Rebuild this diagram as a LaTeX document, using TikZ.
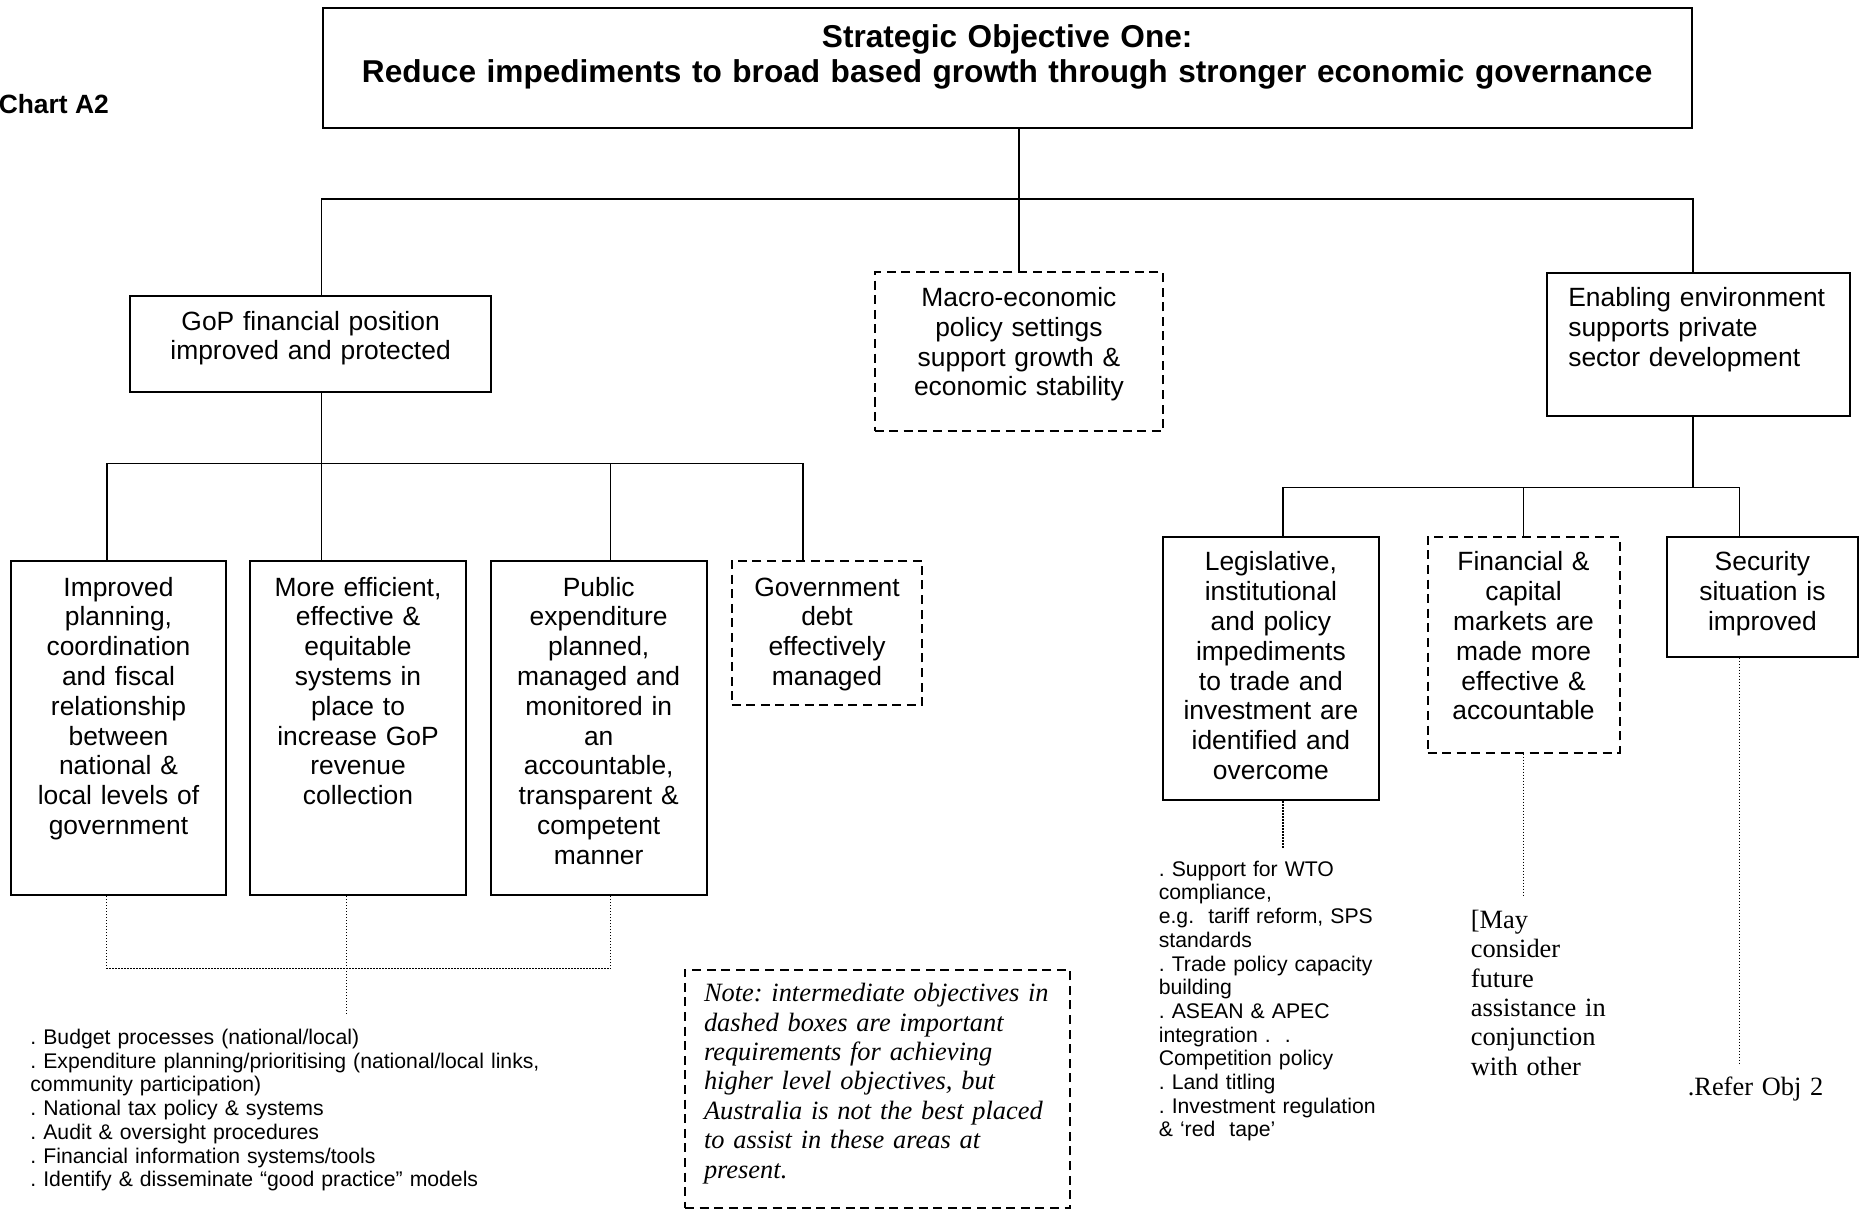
\documentclass[tikz,border=0pt]{standalone}
\usepackage{fontspec}
\setmainfont{Liberation Sans}
\newfontfamily\timesfont{Liberation Serif}
\usepackage{tikz}
\frenchspacing

\begin{document}
\begin{tikzpicture}[
      x=0.5pt, y=-0.5pt,
      line width=0.8pt,
      obj/.style={draw, line width=1pt, anchor=north, align=center, inner xsep=2pt, inner ysep=0pt,
        text height=17pt, font=\fontsize{13.2}{14.9}\selectfont},
      dobj/.style={obj, dash pattern=on 4.5pt off 2.8pt},
      hint/.style={line width=0.7pt, dash pattern=on 0.7pt off 0.8pt},
      lst/.style={anchor=base west, align=left, inner sep=0pt, font=\fontsize{10.6}{11.85}\selectfont},
      tms/.style={anchor=base west, align=left, inner sep=0pt, font=\timesfont\fontsize{13.2}{14.7}\selectfont}
    ]
    \useasboundingbox (0,0) rectangle (1859,1209);

    % Obiettivo strategico
    \node[obj, text width=680.7pt, text height=19.5pt, text depth=40.4pt,
          font=\bfseries\fontsize{15.8}{17.8}\selectfont] (top) at (1007.2,7.1)
      {Strategic Objective One:\\Reduce impediments to broad based growth through stronger economic governance};
    \node[anchor=base west, inner sep=0pt, font=\bfseries\fontsize{13.2}{15}\selectfont] (chart) at (-2,113.5) {Chart A2};

    % Secondo livello
    \node[obj, text width=176.2pt, text depth=30.7pt] (gop) at (310.6,295.2)
      {GoP financial position\\improved and protected};
    \node[dobj, text width=140.4pt, text depth=62.4pt] (macro) at (1018.9,271.5)
      {Macro-economic\\policy settings\\support growth \&\\economic stability};
    \node[obj, align=left, inner xsep=10.5pt, text width=130.3pt, text depth=54.6pt] (ena) at (1698.6,271.7)
      {Enabling environment\\supports private\\sector development};

    % Terzo livello (sinistra)
    \node[obj, text width=103.9pt, text height=17.7pt, text depth=149.5pt] (imp) at (118.5,559.6)
      {Improved\\planning,\\coordination\\and fiscal\\relationship\\between\\national \&\\local levels of\\government};
    \node[obj, text width=103.9pt, text height=17.7pt, text depth=149.5pt] (eff) at (358,559.6)
      {More efficient,\\effective \&\\equitable\\systems in\\place to\\increase GoP\\revenue\\collection};
    \node[obj, text width=103.9pt, text height=17.7pt, text depth=149.5pt] (pub) at (598.7,559.6)
      {Public\\expenditure\\planned,\\managed and\\monitored in\\an\\accountable,\\transparent \&\\competent\\manner};
    \node[dobj, text width=91.4pt, text height=17.7pt, text depth=54.6pt] (debt) at (827,559.6)
      {Government\\debt\\effectively\\managed};

    % Terzo livello (destra)
    \node[obj, text width=103.9pt, text depth=114.6pt] (leg) at (1270.9,535.9)
      {Legislative,\\institutional\\and policy\\impediments\\to trade and\\investment are\\identified and\\overcome};
    \node[dobj, text width=92pt, text depth=90.9pt] (fin) at (1523.5,535.9)
      {Financial \&\\capital\\markets are\\made more\\effective \&\\accountable};
    \node[obj, text width=91.4pt, text depth=42.8pt] (sec) at (1762.4,535.9)
      {Security\\situation is\\improved};

    % Collegamenti
    \coordinate (b1) at (0,199.2);
    \draw (top.south -| macro.north) -- (macro.north);
    \draw (gop.north -| top.west) -- (b1 -| top.west) -- (b1 -| top.east) -- (ena.north -| top.east);
    \draw (gop.south -| top.west) -- (eff.north -| top.west);

    \coordinate (j1) at (106.7,463.6);
    \coordinate (j3) at (610.6,463.6);
    \coordinate (j4) at (802.7,463.6);
    \draw (imp.north -| j1) -- (j1) -- (j4) -- (debt.north -| j4);
    \draw (j3) -- (pub.north -| j3);

    \coordinate (k1) at (1282.8,487.3);
    \coordinate (k2) at (1523.5,487.3);
    \coordinate (k3) at (1739.3,487.3);
    \draw (ena.south -| top.east) -- (k1 -| top.east);
    \draw (leg.north -| k1) -- (k1) -- (k3) -- (sec.north -| k3);
    \draw (k2) -- (fin.north);

    % Linee tratteggiate verso le attivita
    \coordinate (d1) at (106.7,968.6);
    \coordinate (d2) at (346.2,968.6);
    \coordinate (d3) at (610.6,968.6);
    \coordinate (e2) at (346.2,1013.7);
    \draw[hint] (imp.south -| d1) -- (d1) -- (d3) -- (pub.south -| d3);
    \draw[hint] (eff.south -| d2) -- (e2);
    \coordinate (e5) at (1282.8,847.7);
    \draw[hint] (leg.south -| e5) -- (e5);
    \coordinate (e6) at (1523.5,897.5);
    \draw[hint] (fin.south) -- (e6);
    \coordinate (e7) at (1739.3,1064.7);
    \draw[hint] (sec.south -| e7) -- (e7);

    % Elenchi e note
    \node[lst, text width=270pt] (bul1) at (29.6,1044.5)
      {. Budget processes (national/local)\\
       . Expenditure planning/prioritising (national/local links,\\
       community participation)\\
       . National tax policy \& systems\\
       . Audit \& oversight procedures\\
       . Financial information systems/tools\\
       . Identify \& disseminate “good practice” models};
    \node[lst, text width=140pt] (bul2) at (1158,876.2)
      {. Support for WTO\\
       compliance,\\
       e.g.~ tariff reform, SPS\\
       standards\\
       . Trade policy capacity\\
       building\\
       . ASEAN \& APEC\\
       integration .~ .\\
       Competition policy\\
       . Land titling\\
       . Investment regulation\\
       \& ‘red~ tape’};
    \node[draw, line width=1pt, dash pattern=on 4.5pt off 2.8pt, anchor=north west, align=left,
          inner xsep=9.5pt, inner ysep=0pt, text width=173.5pt, text height=16pt, text depth=103.4pt,
          font=\timesfont\itshape\fontsize{13.2}{14.7}\selectfont] (note) at (684,968.6)
      {Note: intermediate objectives in\\dashed boxes are important\\requirements for achieving\\higher level objectives, but\\Australia is not the best placed\\to assist in these areas at\\present.};
    \node[tms, text width=80pt] (may) at (1470,928.3)
      {[May\\consider\\future\\assistance in\\conjunction\\with other};
    \node[tms, text width=80pt] (refer) at (1687,1095.5) {.Refer Obj 2};
  \end{tikzpicture}
\end{document}
